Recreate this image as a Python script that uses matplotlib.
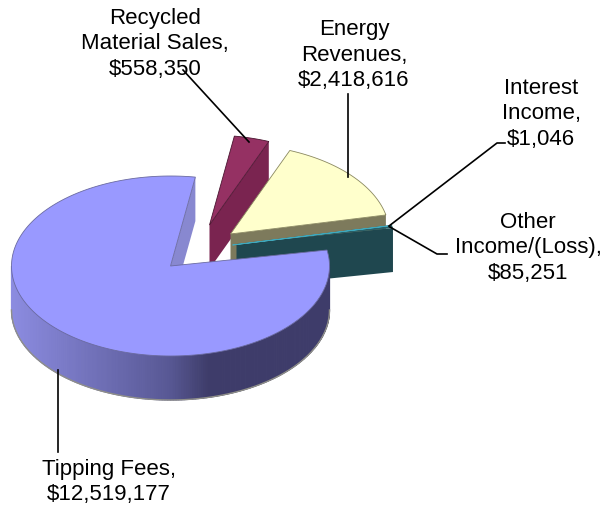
import numpy as np
import matplotlib
matplotlib.use('Agg')
import matplotlib.pyplot as plt

# Data
names = ['Tipping Fees,', 'Recycled\nMaterial Sales,', 'Energy\nRevenues,', 'Interest\nIncome,', 'Other\nIncome/(Loss),']
values = [12519177, 558350, 2418616, 1046, 85251]

# Look of the pie (pixels of the 605x510 picture)
RX, RY, DEPTH = 159.0, 90.0, 44.0
CENTER = (170.5, 267.0)
START = 81.0
offsets = [(0, 0), (39, -41), (60, -32), (62, -21), (66, -22)]
top_colors = ['#9999ff', '#953163', '#ffffcc', '#3fa9bd', '#2a6068']
face_colors = ['#8888d0', '#7a2450', '#7d7a5c', None, '#1f474f']
label_pos = [(109, 482), (155, 44), (354, 55), (541, 114), (528, 248)]
leaders = [[(58, 371), (58, 453)],
           [(249, 143), (183, 71)],
           [(348, 178), (348, 95)],
           [(389, 227), (497, 144), (505, 144)],
           [(390, 228), (437, 255), (447, 255)]]
top_edges = ['#6a6aa0', '#4a1530', '#8a8860', '#3fa9bd', 'none']


def arc(cx, cy, a0, a1, n=200):
    t = np.radians(np.linspace(a0, a1, n))
    return cx + RX*np.cos(t), cy - RY*np.sin(t)


def rim_color(frac):
    stops = [0.0, 0.5, 0.62, 1.0]
    r = np.interp(frac, stops, [140, 88, 62, 62])
    g = np.interp(frac, stops, [140, 88, 60, 60])
    b = np.interp(frac, stops, [225, 148, 106, 106])
    return (r/255, g/255, b/255)


def draw_face(cx, cy, angle, color):
    if color is None:
        return
    x, y = arc(cx, cy, angle, angle, 1)
    ax.fill([cx, x[0], x[0], cx], [cy, y[0], y[0]+DEPTH, cy+DEPTH],
            color=color, lw=0)


def draw_top(cx, cy, a0, a1, color, edge):
    x, y = arc(cx, cy, a0, a1)
    ax.fill(np.r_[cx, x], np.r_[cy, y], facecolor=color, edgecolor=edge, lw=0.6)


fig = plt.figure(figsize=(6.05, 5.10), dpi=100)
ax = fig.add_axes([0, 0, 1, 1])
ax.set_xlim(0, 605)
ax.set_ylim(510, 0)
ax.axis('off')

# angles from the values, clockwise after the big slice
sweep = 360.0*np.array(values)/sum(values)
a_big_end = START + sweep[0]
ends = START - np.cumsum(sweep[1:])
starts = np.r_[START, ends[:-1]]

# small slices, back to front
for i in [1, 2, 4, 3]:
    cx, cy = CENTER[0]+offsets[i][0], CENTER[1]+offsets[i][1]
    draw_face(cx, cy, ends[i-1], face_colors[i])
    draw_top(cx, cy, starts[i-1], ends[i-1], top_colors[i], top_edges[i])

# big slice: cut face, rim strips, top
cx, cy = CENTER
draw_face(cx, cy, START, face_colors[0])
rim = np.arange(180, 361, 1.0)
for a, b in zip(rim[:-1], rim[1:]):
    x, y = arc(cx, cy, a, b, 4)
    frac = (x.mean()-(cx-RX))/(2*RX)
    col = rim_color(frac)
    ax.fill(np.r_[x, x[::-1]], np.r_[y, y[::-1]+DEPTH], color=col, lw=0.8)
x, y = arc(cx, cy, 180, 360)
ax.plot(x, y+DEPTH, color='#8f8f88', lw=1.0)
draw_top(cx, cy, START, a_big_end, top_colors[0], top_edges[0])

# labels and leader lines
for i in range(len(values)):
    ax.text(label_pos[i][0], label_pos[i][1], names[i] + '\n$' + format(values[i], ','),
            ha='center', va='center', fontsize=16, family='Liberation Sans',
            linespacing=1.28, color='black')
    pts = np.array(leaders[i])
    ax.plot(pts[:, 0], pts[:, 1], color='black', lw=1.2)

fig.savefig('out.png', dpi=100)
